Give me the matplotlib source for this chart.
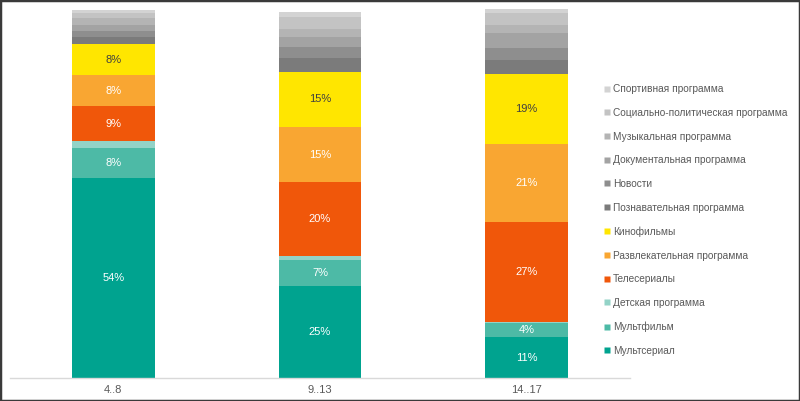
import matplotlib
matplotlib.use('Agg')
import matplotlib.pyplot as plt
from matplotlib.lines import Line2D
from matplotlib.patches import Rectangle
import numpy as np

plt.rcParams['font.family'] = ['Liberation Sans', 'DejaVu Sans']

# Age groups
groups = ['4..8', '9..13', '14..17']

# Categories, bottom to top of stack
categories = ['Мультсериал', 'Мультфильм', 'Детская программа', 'Телесериалы',
              'Развлекательная программа', 'Кинофильмы', 'Познавательная программа',
              'Новости', 'Документальная программа', 'Музыкальная программа',
              'Социально-политическая программа', 'Спортивная программа']

multserial = [54.2, 25.0, 11.0]
multfilm = [8.0, 7.0, 4.0]
detskaya = [2.0, 1.0, 0.3]
teleserialy = [9.4, 20.0, 27.0]
razvlek = [8.4, 15.0, 21.0]
kinofilmy = [8.4, 15.0, 19.0]
poznavat = [1.9, 3.8, 3.9]
novosti = [1.8, 3.0, 3.3]
dokument = [1.6, 2.7, 3.9]
muzyk = [1.8, 2.2, 2.2]
socpol = [1.4, 3.0, 3.4]
sport = [0.9, 1.6, 1.6]

series = [multserial, multfilm, detskaya, teleserialy, razvlek, kinofilmy,
          poznavat, novosti, dokument, muzyk, socpol, sport]
colors = ['#00a38f', '#4dbaa6', '#93d3c7', '#f0570a', '#f9a632', '#ffe600',
          '#7b7b7b', '#8e8e8e', '#a3a3a3', '#b4b4b4', '#c3c3c3', '#d3d3d3']
labeled = [True, True, False, True, True, True] + [False] * 6
label_colors = ['white', 'white', None, 'white', 'white', '#404040'] + [None] * 6

fig = plt.figure(figsize=(8.0, 4.01), dpi=100, facecolor='w')
ax = fig.add_axes([0.0125, 0.0574, 0.775, 0.9202])

x = np.arange(len(groups))
bottom = np.zeros(len(groups))
for vals, col, lab, lc in zip(series, colors, labeled, label_colors):
    vals = np.array(vals)
    ax.bar(x, vals, 0.4, bottom=bottom, color=col, edgecolor='none')
    if lab:
        for xi, b, v in zip(x, bottom, vals):
            ax.text(xi, b + v / 2, '%d%%' % round(v), ha='center', va='center',
                    fontsize=8, color=lc)
    bottom += vals

ax.set_xlim(-0.5, 2.5)
ax.set_ylim(0, 100)
ax.set_xticks(x)
ax.set_xticklabels(groups, fontsize=8, color='#595959')
ax.tick_params(axis='x', length=0, pad=5)
ax.set_yticks([])
for s in ['top', 'right', 'left']:
    ax.spines[s].set_visible(False)
ax.spines['bottom'].set_color('#d9d9d9')
ax.spines['bottom'].set_linewidth(1)

handles = [Line2D([], [], marker='s', linestyle='none', markersize=4,
                  markerfacecolor=c, markeredgecolor='none')
           for c in colors]
leg = fig.legend(handles[::-1], categories[::-1], loc='upper left',
                 bbox_to_anchor=(0.75, 0.8), frameon=False, fontsize=7.3,
                 handlelength=0.6, handletextpad=0.25, labelspacing=1.35,
                 borderaxespad=0)
for t in leg.get_texts():
    t.set_color('#595959')

fig.patches.append(Rectangle((0, 0), 1, 1, transform=fig.transFigure, fill=False,
                             edgecolor='#3a3a3a', linewidth=2.5))

fig.savefig('out.png', dpi=100)
plt.close()
